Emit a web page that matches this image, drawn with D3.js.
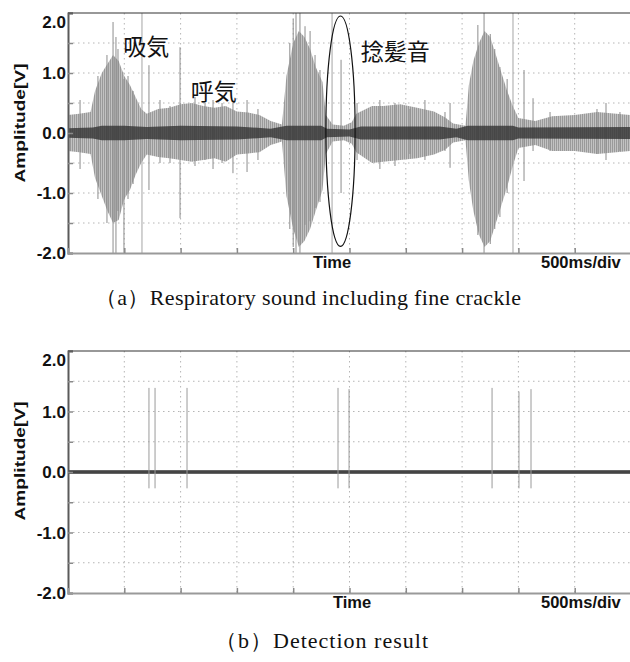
<!DOCTYPE html>
<html>
<head>
<meta charset="utf-8">
<script src="https://cdn.jsdelivr.net/npm/d3@7/dist/d3.min.js"></script>
<style>
body { margin: 0; background: #fff; }
</style>
</head>
<body>
<div id="chart"></div>
<script>
// ---- datos (tiempo en ms, amplitud en V) ----
// envolvente de la senal respiratoria (a): tiempo, pico positivo, pico negativo
var envTime = [0, 100, 200, 240, 300, 350, 400, 450, 500, 550, 600, 650, 700, 800, 900, 1000, 1100, 1200, 1300, 1400,
               1500, 1600, 1700, 1800, 1900, 1940, 2000, 2050, 2100, 2150, 2200, 2260, 2290, 2350, 2450, 2520, 2560, 2700,
               2800, 2950, 3100, 3250, 3350, 3420, 3530, 3560, 3600, 3650, 3700, 3750, 3800, 3850, 3900, 3950, 4000, 4150,
               4300, 4500, 4700, 5000];
var envHigh = [0.30, 0.32, 0.35, 0.70, 1.00, 1.15, 1.30, 1.20, 0.95, 0.80, 0.60, 0.40, 0.32, 0.40, 0.42, 0.48, 0.50, 0.45, 0.42, 0.45,
               0.36, 0.34, 0.30, 0.20, 0.14, 0.95, 1.50, 1.70, 1.60, 1.40, 1.10, 0.85, 0.30, 0.14, 0.12, 0.18, 0.32, 0.45,
               0.45, 0.48, 0.42, 0.36, 0.26, 0.16, 0.12, 0.80, 1.20, 1.50, 1.70, 1.60, 1.30, 1.00, 0.70, 0.45, 0.25, 0.20,
               0.28, 0.30, 0.35, 0.30];
var envLow  = [-0.30, -0.32, -0.35, -0.75, -1.05, -1.30, -1.50, -1.45, -1.10, -0.95, -0.70, -0.50, -0.36, -0.40, -0.42, -0.45, -0.48, -0.45, -0.42, -0.48,
               -0.36, -0.34, -0.32, -0.20, -0.14, -1.05, -1.60, -1.90, -1.80, -1.60, -1.30, -0.95, -0.35, -0.14, -0.12, -0.18, -0.32, -0.50,
               -0.48, -0.45, -0.42, -0.36, -0.28, -0.16, -0.12, -0.80, -1.30, -1.70, -1.90, -1.80, -1.50, -1.20, -0.90, -0.55, -0.25, -0.20,
               -0.30, -0.30, -0.35, -0.30];

// banda oscura central de la senal (a)
var coreTime = [0, 220, 300, 500, 700, 1000, 1500, 1800, 1940, 2250, 2300, 2500, 2600, 3300, 3450, 3550, 3950, 4000, 5000];
var coreAmp  = [0.08, 0.09, 0.12, 0.12, 0.10, 0.12, 0.11, 0.07, 0.12, 0.12, 0.07, 0.06, 0.11, 0.11, 0.07, 0.12, 0.12, 0.09, 0.10];

// picos aislados de la senal (a)
var spikeTime = [107, 266, 346, 400, 426, 444, 497, 533, 578, 719, 817, 906, 995, 1128, 1217, 1288, 1368, 1465, 1590, 1687,
                 1970, 2000, 2025, 2060, 2105, 2150, 2194, 2238, 2425, 2567, 2770, 2904, 3037, 3170, 3348, 3393,
                 3640, 3695, 3750, 3790, 3836, 3900, 4050, 4130, 4281, 4698, 4778, 4902];
var spikeHigh = [0.55, 0.95, 1.30, 1.85, 1.60, 1.40, 0.90, 0.95, 0.70, 1.13, 0.55, 0.45, 1.43, 0.60, 0.50, 0.55, 0.50, 0.50, 0.55, 0.40,
                 1.50, 1.90, 2.00, 2.00, 1.78, 1.70, 1.30, 1.05, 1.22, 0.50, 0.55, 0.50, 0.40, 0.55, 0.35, 0.50,
                 1.80, 2.00, 1.65, 1.40, 1.10, 0.90, 1.05, 0.58, 0.35, 0.40, 0.50, 0.35];
var spikeLow  = [-0.60, -1.10, -1.50, -2.00, -2.00, -1.30, -2.00, -1.10, -0.85, -0.95, -0.50, -0.50, -1.42, -0.55, -0.45, -0.60, -0.50, -0.67, -0.65, -0.45,
                 -1.60, -1.90, -2.00, -2.00, -1.53, -1.47, -1.25, -1.15, -1.00, -0.45, -0.60, -0.55, -0.35, -0.45, -0.30, -0.58,
                 -1.70, -2.00, -1.85, -1.60, -1.40, -1.00, -0.80, -0.30, -0.30, -0.35, -0.45, -0.30];

// lineas tenues de altura completa en (a)
var fullLineTime = [657, 2345, 3952];

// resultado de deteccion (b)
var detectTime = [719, 773, 1057, 2398, 2496, 3766, 4005, 4112];
var detectHigh = [1.39, 1.39, 1.39, 1.39, 1.37, 1.39, 1.33, 1.37];
var detectLow  = [-0.27, -0.27, -0.27, -0.27, -0.27, -0.27, -0.27, -0.27];
var baseLevel  = 0.03;

// elipse del sonido crepitante (centro t, v y semiejes)
var ellipseT = 2420, ellipseV = 0.03, ellipseDT = 130, ellipseDV = 1.92;

// ejes
var timeGrid = [0, 500, 1000, 1500, 2000, 2500, 3000, 3500, 4000, 4500, 5000];
var ampTicks = [-2, -1.5, -1, -0.5, 0, 0.5, 1, 1.5, 2];
var ampLabels = {"2": "2.0", "1": "1.0", "0": "0.0", "-1": "-1.0", "-2": "-2.0"};

var width = 630;
var height = 662;

var svg = d3.select("#chart")
            .append("svg")
            .attr("width", width)
            .attr("height", height);

var defs = svg.append("defs");

// textura tipo osciloscopio para la envolvente
var hatch = defs.append("pattern")
                .attr("id", "hatch")
                .attr("width", 2)
                .attr("height", 4)
                .attr("patternUnits", "userSpaceOnUse");
hatch.append("rect").attr("width", 2).attr("height", 4).attr("fill", "#c2c2c2");
hatch.append("rect").attr("width", 1).attr("height", 4).attr("fill", "#9a9a9a");

var left = 68, right = 631;

//Dibuja un panel con rejilla y ejes
function drawPanel(id, top, bottom, timeX) {
    var x = d3.scaleLinear().domain([0, 5000]).range([left, right]);
    var y = d3.scaleLinear().domain([-2, 2]).range([bottom, top]);
    var g = svg.append("g");

    defs.append("clipPath").attr("id", id)
        .append("rect")
        .attr("x", left).attr("y", top)
        .attr("width", right - left).attr("height", bottom - top);

    //rejilla punteada
    g.append("g").selectAll("line")
        .data(ampTicks.filter(v => Math.abs(v) < 2))
        .enter().append("line")
        .attr("x1", left).attr("x2", right)
        .attr("y1", d => y(d)).attr("y2", d => y(d))
        .attr("stroke", "#b5b5b5")
        .attr("stroke-dasharray", "1.5,3.5");

    g.append("g").selectAll("line")
        .data(timeGrid.slice(1))
        .enter().append("line")
        .attr("x1", d => x(d)).attr("x2", d => x(d))
        .attr("y1", top).attr("y2", bottom)
        .attr("stroke", "#b5b5b5")
        .attr("stroke-dasharray", "1.5,3.5");

    var plot = g.append("g").attr("clip-path", "url(#" + id + ")");

    var axes = g.append("g");

    //eje Y
    var yAxis = d3.axisLeft(y)
                  .tickValues(ampTicks)
                  .tickSize(-5)
                  .tickPadding(6)
                  .tickFormat(d => ampLabels[String(d)] || "");
    var ya = axes.append("g")
                 .attr("transform", "translate(" + left + ",0)")
                 .call(yAxis);
    ya.select(".domain").attr("stroke", "#5a5a5a").attr("stroke-width", 2);
    ya.selectAll(".tick line").attr("stroke", "#8a8a8a").attr("stroke-width", 1.5);
    ya.selectAll(".tick text")
      .attr("x", -2)
      .style("font-family", "'Liberation Sans', Arial, sans-serif")
      .style("font-weight", "bold")
      .style("font-size", "17px")
      .attr("fill", "#111")
      .attr("dy", d => d === 2 ? "0.85em" : "0.35em");

    //eje X
    var xAxis = d3.axisBottom(x)
                  .tickValues(timeGrid.slice(1, -1))
                  .tickSize(-5)
                  .tickFormat("");
    var xa = axes.append("g")
                 .attr("transform", "translate(0," + bottom + ")")
                 .call(xAxis);
    xa.select(".domain").attr("stroke", "#9a9a9a").attr("stroke-width", 2);
    xa.selectAll(".tick line").attr("stroke", "#8a8a8a").attr("stroke-width", 1.5);

    //borde superior
    axes.append("line")
        .attr("x1", left).attr("x2", right)
        .attr("y1", top).attr("y2", top)
        .attr("stroke", "#333").attr("stroke-width", 1.2);

    //titulo del eje Y
    axes.append("text")
        .attr("transform", "translate(25," + (top + 110) + ") rotate(-90)")
        .style("text-anchor", "middle")
        .style("font-family", "'Liberation Sans', Arial, sans-serif")
        .style("font-weight", "bold")
        .style("font-size", "15px")
        .attr("textLength", 119)
        .attr("lengthAdjust", "spacingAndGlyphs")
        .attr("fill", "#111")
        .text("Amplitude[V]");

    axes.append("text")
        .attr("x", timeX).attr("y", bottom + 15)
        .style("font-family", "'Liberation Sans', Arial, sans-serif")
        .style("font-weight", "bold")
        .style("font-size", "16.5px")
        .attr("fill", "#111")
        .text("Time");

    axes.append("text")
        .attr("x", 541).attr("y", bottom + 15)
        .style("font-family", "'Liberation Sans', Arial, sans-serif")
        .style("font-weight", "bold")
        .style("font-size", "16.5px")
        .attr("fill", "#111")
        .text("500ms/div");

    return {x: x, y: y, plot: plot, axes: axes};
}

// ---- panel (a) ----
var pa = drawPanel("clipA", 13, 253, 313);

var envData = envTime.map((t, i) => ({t: t, hi: envHigh[i], lo: envLow[i]}));
var coreData = coreTime.map((t, i) => ({t: t, a: coreAmp[i]}));
var spikeData = spikeTime.map((t, i) => ({t: t, hi: spikeHigh[i], lo: spikeLow[i]}));

var envArea = d3.area()
                .x(d => pa.x(d.t))
                .y0(d => pa.y(d.lo))
                .y1(d => pa.y(d.hi));

pa.plot.append("path")
       .datum(envData)
       .attr("d", envArea)
       .attr("fill", "url(#hatch)");

pa.plot.append("g").selectAll("line")
       .data(fullLineTime)
       .enter().append("line")
       .attr("x1", d => pa.x(d)).attr("x2", d => pa.x(d))
       .attr("y1", pa.y(2)).attr("y2", pa.y(-2))
       .attr("stroke", "#a5a5a5").attr("stroke-width", 1);

pa.plot.append("g").selectAll("line")
       .data(spikeData)
       .enter().append("line")
       .attr("x1", d => pa.x(d.t)).attr("x2", d => pa.x(d.t))
       .attr("y1", d => pa.y(d.hi)).attr("y2", d => pa.y(d.lo))
       .attr("stroke", "#8d8d8d").attr("stroke-width", 1);

var coreArea = d3.area()
                 .x(d => pa.x(d.t))
                 .y0(d => pa.y(-d.a))
                 .y1(d => pa.y(d.a));

pa.plot.append("path")
       .datum(coreData)
       .attr("d", coreArea)
       .attr("fill", "#333")
       .attr("opacity", 0.8);

//elipse
pa.axes.append("ellipse")
       .attr("cx", pa.x(ellipseT))
       .attr("cy", pa.y(ellipseV))
       .attr("rx", pa.x(ellipseT + ellipseDT) - pa.x(ellipseT))
       .attr("ry", pa.y(0) - pa.y(ellipseDV))
       .attr("fill", "none")
       .attr("stroke", "#111")
       .attr("stroke-width", 1.2);

//anotaciones
var notes = [
    {text: "吸気", t: 490, v: 1.3},
    {text: "呼気", t: 1090, v: 0.55},
    {text: "捻髪音", t: 2600, v: 1.22}
];
pa.axes.selectAll(".note")
       .data(notes)
       .enter().append("text")
       .attr("class", "note")
       .attr("x", d => pa.x(d.t))
       .attr("y", d => pa.y(d.v))
       .style("font-family", "'Noto Sans CJK JP', sans-serif")
       .style("font-size", "23px")
       .attr("fill", "#111")
       .text(d => d.text);

// ---- panel (b) ----
var pb = drawPanel("clipB", 351, 593, 333);

pb.plot.append("rect")
       .attr("x", left).attr("width", right - left)
       .attr("y", pb.y(baseLevel))
       .attr("height", pb.y(-baseLevel) - pb.y(baseLevel))
       .attr("fill", "#444");

pb.plot.append("g").selectAll("line")
       .data(detectTime.map((t, i) => ({t: t, hi: detectHigh[i], lo: detectLow[i]})))
       .enter().append("line")
       .attr("x1", d => pb.x(d.t)).attr("x2", d => pb.x(d.t))
       .attr("y1", d => pb.y(d.hi)).attr("y2", d => pb.y(d.lo))
       .attr("stroke", "#9a9a9a").attr("stroke-width", 1);

// ---- leyendas ----
svg.append("text")
   .attr("x", 95).attr("y", 305)
   .style("font-family", "'Liberation Serif', 'Times New Roman', serif")
   .style("font-size", "22px")
   .attr("fill", "#111")
   .attr("textLength", 426)
   .attr("lengthAdjust", "spacing")
   .text("（a）Respiratory sound including fine crackle");

svg.append("text")
   .attr("x", 215).attr("y", 648)
   .style("font-family", "'Liberation Serif', 'Times New Roman', serif")
   .style("font-size", "22px")
   .attr("fill", "#111")
   .attr("textLength", 213)
   .attr("lengthAdjust", "spacing")
   .text("（b）Detection result");
</script>
</body>
</html>
